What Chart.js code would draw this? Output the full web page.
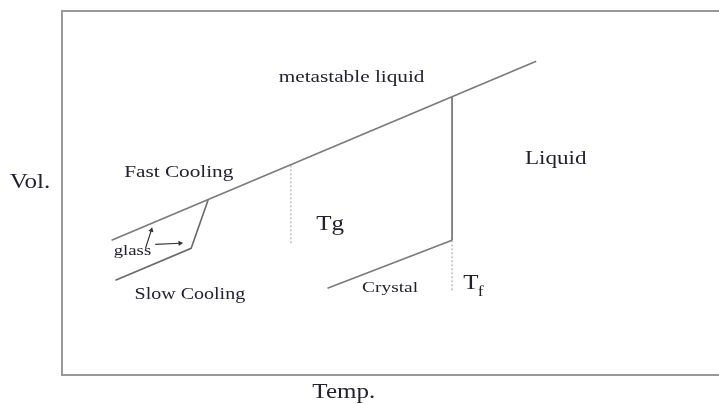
<!DOCTYPE html>
<html>
<head>
<meta charset="utf-8">
<script src="https://cdn.jsdelivr.net/npm/chart.js@4/dist/chart.umd.min.js"></script>
<style>
    html, body { margin: 0; padding: 0; background: #fff; overflow: hidden; }
    #wrap { width: 760px; height: 404px; }
</style>
</head>
<body>
<div id="wrap"><canvas id="chart"></canvas></div>
<script>
// schematic units: temperature 0..100, volume 0..100
// (the frame is open on the right, so the plot runs past the window edge)
const liquidLine = [{x: 7.6, y: 37.0}, {x: 72.7, y: 86.2}];
const slowGlass = [{x: 8.2, y: 26.0}, {x: 19.8, y: 34.8}, {x: 22.4, y: 48.1}];
const tgMark = [{x: 35.1, y: 57.6}, {x: 35.1, y: 36.2}];
const tfDrop = [{x: 59.8, y: 76.4}, {x: 59.8, y: 37.0}];
const tfMark = [{x: 59.8, y: 37.0}, {x: 59.8, y: 23.2}];
const crystalLine = [{x: 40.7, y: 23.8}, {x: 59.8, y: 37.0}];
const arrowUp = [{x: 12.8, y: 34.8}, {x: 13.7, y: 39.8}];
const arrowRight = [{x: 14.3, y: 35.9}, {x: 18.1, y: 36.2}];

const labels = [
    {text: 'metastable liquid', x: 44.4, y: 81.8, size: 17},
    {text: 'Liquid', x: 75.7, y: 59.4, size: 18.5},
    {text: 'Fast Cooling', x: 17.9, y: 55.5, size: 17},
    {text: 'Tg', x: 41.1, y: 41.4, size: 20},
    {text: 'glass', x: 10.8, y: 34.0, size: 15},
    {text: 'Slow Cooling', x: 19.6, y: 22.1, size: 16},
    {text: 'Crystal', x: 50.3, y: 23.8, size: 15.5},
    {text: 'T', x: 62.7, y: 25.1, size: 20},
    {text: 'f', x: 64.2, y: 22.8, size: 14},
    {text: 'Vol.', x: -4.9, y: 52.8, size: 20},
    {text: 'Temp.', x: 43.2, y: -5.0, size: 20}
];

function seg(data, color, width, dash) {
    return {
        data: data,
        showLine: true,
        borderColor: color,
        borderWidth: width,
        borderDash: dash || [],
        pointRadius: 0,
        fill: false
    };
}

function arrow(data, rot) {
    let d = seg(data, '#333', 1.2);
    d.pointRadius = [0, 3];
    d.pointStyle = 'triangle';
    d.pointRotation = rot;
    d.pointBackgroundColor = '#333';
    d.pointBorderColor = '#333';
    d.pointBorderWidth = 0;
    return d;
}

// text is stretched horizontally in the original scan
const textPlugin = {
    id: 'schemeText',
    afterDraw(chart) {
        const ctx = chart.ctx;
        const xs = chart.scales.x, ys = chart.scales.y;
        ctx.save();
        ctx.fillStyle = '#22222e';
        ctx.textAlign = 'center';
        ctx.textBaseline = 'middle';
        labels.forEach(l => {
            const px = xs.getPixelForValue(l.x);
            const py = ys.getPixelForValue(l.y);
            ctx.save();
            ctx.translate(px, py);
            ctx.scale(1.25, 1);
            ctx.font = l.size + 'px "Liberation Serif", "Times New Roman", serif';
            ctx.fillText(l.text, 0, 0);
            ctx.restore();
        });
        ctx.restore();
    }
};

const noMarks = {display: false, drawTicks: false};

new Chart(document.getElementById('chart').getContext('2d'), {
    type: 'scatter',
    data: {
        datasets: [
            seg(liquidLine, '#7a7a7a', 1.6),
            seg(slowGlass, '#6a6a6a', 1.6),
            seg(tgMark, '#9a9a9a', 1, [2, 2]),
            seg(tfDrop, '#555', 1.4),
            seg(tfMark, '#9a9a9a', 1, [2, 2]),
            seg(crystalLine, '#7a7a7a', 1.6),
            arrow(arrowUp, 15),
            arrow(arrowRight, 86)
        ]
    },
    options: {
        responsive: true,
        maintainAspectRatio: false,
        animation: false,
        layout: {
            padding: {left: 62, top: 11, right: 0, bottom: 29}
        },
        scales: {
            x: {
                type: 'linear',
                min: 0,
                max: 106.4,
                ticks: {display: false},
                grid: noMarks,
                border: {display: true, color: '#999', width: 2}
            },
            xTop: {
                type: 'linear',
                position: 'top',
                min: 0,
                max: 106.4,
                ticks: {display: false},
                grid: noMarks,
                border: {display: true, color: '#999', width: 2}
            },
            y: {
                type: 'linear',
                min: 0,
                max: 100,
                ticks: {display: false},
                grid: noMarks,
                border: {display: true, color: '#999', width: 2}
            }
        },
        plugins: {
            legend: {display: false},
            tooltip: {enabled: false}
        }
    },
    plugins: [textPlugin]
});
</script>
</body>
</html>
